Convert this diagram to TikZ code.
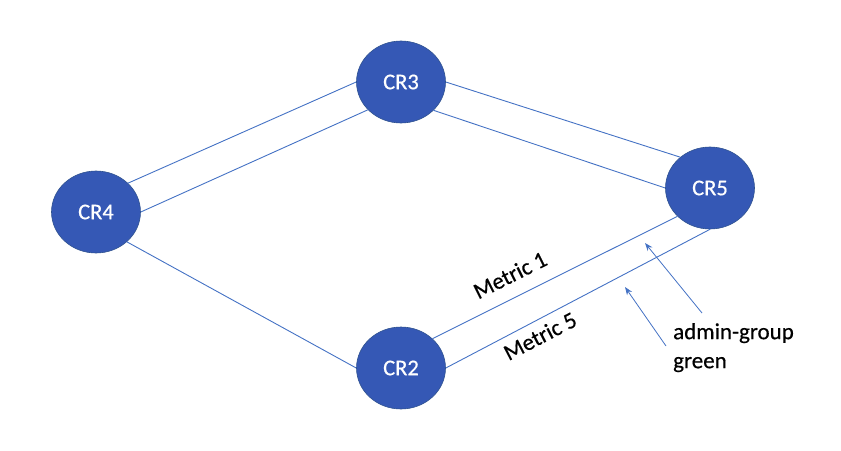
\documentclass[tikz,border=0pt]{standalone}
\usepackage{fontspec}
\setmainfont{Carlito}[FakeBold=0.5]
\usetikzlibrary{shapes.geometric,arrows.meta}
\definecolor{nodeblue}{HTML}{3558B5}
\definecolor{nodeedge}{HTML}{2F528F}
\definecolor{linkblue}{HTML}{4472C4}
\begin{document}
\begin{tikzpicture}[x=1pt,y=-1pt,
  router/.style={ellipse, fill=nodeblue, draw=nodeedge, line width=0.6pt,
    minimum width=89pt, minimum height=82pt, inner sep=0pt, text=white,
    font=\fontsize{22.5}{27}\selectfont},
  link/.style={draw=linkblue, line width=0.9pt},
  label/.style={font=\fontsize{23}{29}\selectfont, inner sep=0pt},
  pointer/.style={draw=linkblue, line width=0.8pt,
    -{Stealth[length=8pt,width=6pt]}}
]
\useasboundingbox (0,0) rectangle (841,450);

% routers
\node[router] (cr3) at (401,82)  {CR3};
\node[router] (cr4) at (96,212)  {CR4};
\node[router] (cr5) at (710,188) {CR5};
\node[router] (cr2) at (401,368) {CR2};

% links
\draw[link] (cr4.42)  -- (cr3.180);
\draw[link] (cr4.0)   -- (cr3.220);
\draw[link] (cr4.-44) -- (cr2.180);
\draw[link] (cr3.0)   -- (cr5.134);
\draw[link] (cr3.319) -- (cr5.180);
\draw[link] (cr2.43)  -- (cr5.221);
\draw[link] (cr2.0)   -- (cr5.270);

% metrics on the CR2--CR5 pair
\node[label, rotate=26.6] (m1) at (510,275) {Metric 1};
\node[label, rotate=27.5] (m5) at (540,336) {Metric 5};

% admin-group annotation
\node[label, anchor=north west, align=left] (ag) at (673,323) {admin-group\\green};
\coordinate (t1) at (702,313);
\coordinate (h1) at (645,243);
\coordinate (t2) at (666,346);
\coordinate (h2) at (625,287);
\draw[pointer] (t1) -- (h1);
\draw[pointer] (t2) -- (h2);
\end{tikzpicture}
\end{document}
